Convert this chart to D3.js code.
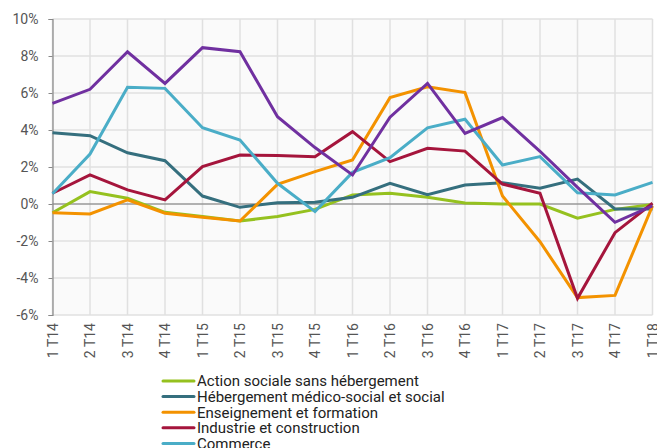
<!DOCTYPE html>
<html lang="fr">
<head>
<meta charset="UTF-8">
<title>Évolution trimestrielle</title>
<script src="https://d3js.org/d3.v7.min.js"></script>
<style>
  * { margin: 0; padding: 0; }
  body { background: #fff; }
  text { font-family: Roboto, "DejaVu Sans", sans-serif; }
</style>
</head>
<body>
<script>
// quarters on the x axis
var quarters = ['1 T14', '2 T14', '3 T14', '4 T14', '1 T15', '2 T15', '3 T15', '4 T15',
  '1 T16', '2 T16', '3 T16', '4 T16', '1 T17', '2 T17', '3 T17', '4 T17', '1 T18'];

var yTicks = [-6, -4, -2, 0, 2, 4, 6, 8, 10];

// series values (%)
var actionSociale = [-0.47, 0.67, 0.31, -0.45, -0.68, -0.92, -0.68, -0.29, 0.49, 0.58, 0.36, 0.05, 0, 0, -0.77, -0.29, -0.02];
var hebergement = [3.85, 3.69, 2.77, 2.34, 0.43, -0.18, 0.07, 0.09, 0.36, 1.12, 0.5, 1.03, 1.15, 0.85, 1.35, -0.27, -0.27];
var enseignement = [-0.47, -0.54, 0.22, -0.5, -0.72, -0.92, 1.06, 1.75, 2.38, 5.75, 6.34, 6.02, 0.43, -2.04, -5.06, -4.94, -0.1];
var industrie = [0.58, 1.57, 0.76, 0.22, 2.02, 2.65, 2.62, 2.56, 3.91, 2.29, 3.01, 2.86, 1.08, 0.58, -5.1, -1.55, 0.04];
var commerce = [0.55, 2.7, 6.31, 6.25, 4.12, 3.46, 1.12, -0.41, 1.71, 2.5, 4.12, 4.58, 2.11, 2.56, 0.61, 0.49, 1.17];
var services = [5.44, 6.2, 8.23, 6.52, 8.45, 8.23, 4.72, 3.05, 1.57, 4.69, 6.52, 3.82, 4.67, 2.85, 0.9, -0.99, -0.1];

var seriesNames = ['Action sociale sans hébergement', 'Hébergement médico-social et social',
  'Enseignement et formation', 'Industrie et construction', 'Commerce', 'Services'];
var seriesValues = [actionSociale, hebergement, enseignement, industrie, commerce, services];
var colors = ['#95c11f', '#356f7e', '#f39200', '#a5153c', '#4aadc7', '#7030a0'];

var width = 657, height = 448;
var plotLeft = 52.5, plotRight = 652.5, plotTop = 19, plotBottom = 315;

var svg = d3.select('body').append('svg')
  .attr('width', width)
  .attr('height', height);

var x = d3.scalePoint().domain(quarters).range([plotLeft, plotRight]);
var y = d3.scaleLinear().domain([-6, 10]).range([plotBottom, plotTop]);

// plot background
svg.append('rect')
  .attr('x', plotLeft).attr('y', plotTop)
  .attr('width', plotRight - plotLeft).attr('height', plotBottom - plotTop)
  .attr('fill', '#fafafa');

// grid
svg.append('g').selectAll('line')
  .data(quarters)
  .enter().append('line')
  .attr('x1', function (d) { return x(d); })
  .attr('x2', function (d) { return x(d); })
  .attr('y1', plotTop).attr('y2', plotBottom)
  .attr('stroke', '#e0e0e0').attr('stroke-width', 1.5);

svg.append('g').selectAll('line')
  .data(yTicks)
  .enter().append('line')
  .attr('x1', plotLeft).attr('x2', plotRight)
  .attr('y1', function (d) { return y(d); })
  .attr('y2', function (d) { return y(d); })
  .attr('stroke', function (d) { return d === 0 ? '#999' : '#e0e0e0'; })
  .attr('stroke-width', 1.5);

// y axis
var yAxis = d3.axisLeft(y)
  .tickValues(yTicks)
  .tickSize(4)
  .tickPadding(10)
  .tickFormat(function (d) { return d + '%'; });

var gy = svg.append('g')
  .attr('transform', 'translate(' + plotLeft + ',0)')
  .call(yAxis);
gy.select('.domain').attr('stroke', '#888').attr('stroke-width', 1.2);
gy.selectAll('.tick line').attr('stroke', '#888');
gy.selectAll('.tick text')
  .attr('fill', '#555')
  .style('font-size', '14px');

// x axis labels
var xAxis = d3.axisBottom(x).tickSize(0).tickPadding(0);
var gx = svg.append('g')
  .attr('transform', 'translate(0,' + plotBottom + ')')
  .call(xAxis);
gx.select('.domain').remove();
gx.selectAll('.tick text')
  .attr('fill', '#555')
  .style('font-size', '14px')
  .attr('text-anchor', 'end')
  .attr('dy', '0.35em')
  .attr('transform', 'translate(0,8) rotate(-90)')
  .attr('x', 0).attr('y', 0);

// lines
var line = d3.line()
  .x(function (d, i) { return x(quarters[i]); })
  .y(function (d) { return y(d); });

svg.append('g').selectAll('path')
  .data(seriesValues)
  .enter().append('path')
  .attr('d', function (d) { return line(d); })
  .attr('fill', 'none')
  .attr('stroke', function (d, i) { return colors[i]; })
  .attr('stroke-width', 3)
  .attr('stroke-linejoin', 'miter');

// legend
var legend = svg.append('g').selectAll('g')
  .data(seriesNames)
  .enter().append('g')
  .attr('transform', function (d, i) { return 'translate(163,' + (381 + i * 15.6) + ')'; });

legend.append('line')
  .attr('x1', 0).attr('x2', 31)
  .attr('stroke', function (d, i) { return colors[i]; })
  .attr('stroke-width', 3)
  .attr('stroke-linecap', 'round');

legend.append('text')
  .attr('x', 34)
  .attr('dy', '0.36em')
  .attr('fill', '#222')
  .style('font-size', '15px')
  .text(function (d) { return d; });
</script>
</body>
</html>
